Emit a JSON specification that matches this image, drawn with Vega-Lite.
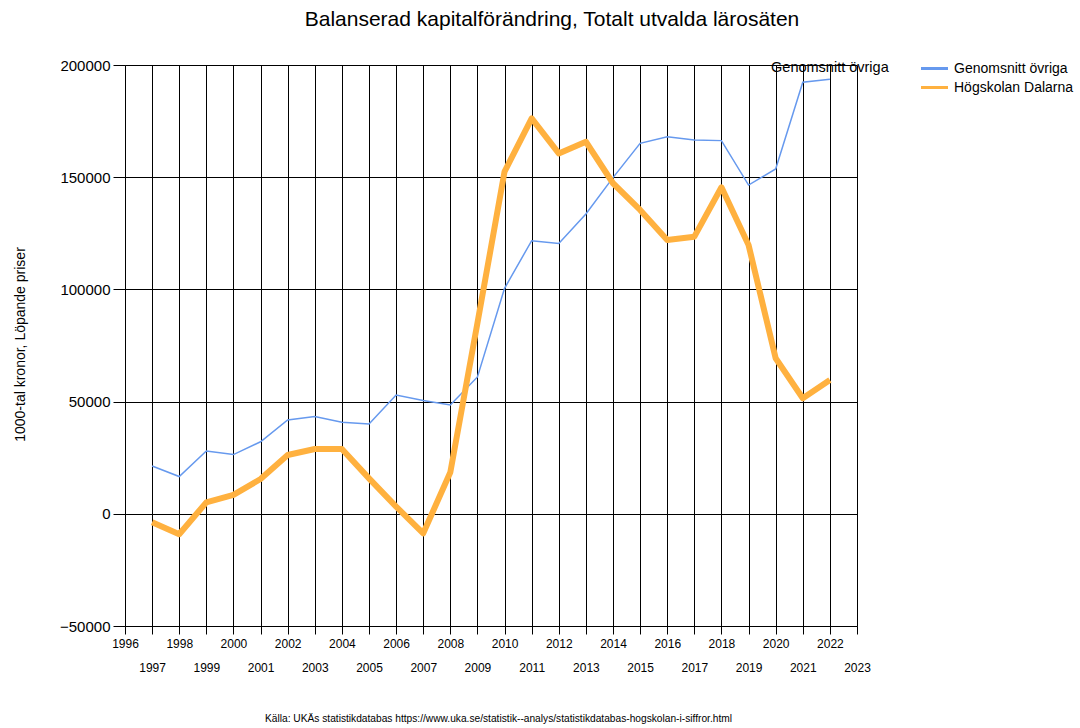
{
  "$schema": "https://vega.github.io/schema/vega-lite/v6.json",
  "width": 732,
  "height": 561,
  "autosize": {"type": "none"},
  "padding": {"left": 125, "top": 65, "right": 223, "bottom": 102},
  "background": "white",
  "config": {"font": "Liberation Sans", "view": {"stroke": null}},
  "title": {"text": "Balanserad kapitalförändring, Totalt utvalda lärosäten", "anchor": "middle", "frame": "group", "dx": 61, "offset": 28, "fontSize": 21, "fontWeight": "normal", "color": "black", "font": "Liberation Sans"},
  "data": {"values": [
    {"year": 1997, "series": "Genomsnitt övriga", "value": 21300},
    {"year": 1998, "series": "Genomsnitt övriga", "value": 16600},
    {"year": 1999, "series": "Genomsnitt övriga", "value": 28000},
    {"year": 2000, "series": "Genomsnitt övriga", "value": 26400},
    {"year": 2001, "series": "Genomsnitt övriga", "value": 32100},
    {"year": 2002, "series": "Genomsnitt övriga", "value": 41800},
    {"year": 2003, "series": "Genomsnitt övriga", "value": 43400},
    {"year": 2004, "series": "Genomsnitt övriga", "value": 40800},
    {"year": 2005, "series": "Genomsnitt övriga", "value": 40000},
    {"year": 2006, "series": "Genomsnitt övriga", "value": 52900},
    {"year": 2007, "series": "Genomsnitt övriga", "value": 50500},
    {"year": 2008, "series": "Genomsnitt övriga", "value": 48500},
    {"year": 2009, "series": "Genomsnitt övriga", "value": 61000},
    {"year": 2010, "series": "Genomsnitt övriga", "value": 100500},
    {"year": 2011, "series": "Genomsnitt övriga", "value": 121700},
    {"year": 2012, "series": "Genomsnitt övriga", "value": 120500},
    {"year": 2013, "series": "Genomsnitt övriga", "value": 133600},
    {"year": 2014, "series": "Genomsnitt övriga", "value": 149800},
    {"year": 2015, "series": "Genomsnitt övriga", "value": 165100},
    {"year": 2016, "series": "Genomsnitt övriga", "value": 168000},
    {"year": 2017, "series": "Genomsnitt övriga", "value": 166600},
    {"year": 2018, "series": "Genomsnitt övriga", "value": 166300},
    {"year": 2019, "series": "Genomsnitt övriga", "value": 146500},
    {"year": 2020, "series": "Genomsnitt övriga", "value": 153700},
    {"year": 2021, "series": "Genomsnitt övriga", "value": 192300},
    {"year": 2022, "series": "Genomsnitt övriga", "value": 193600},
    {"year": 1997, "series": "Högskolan Dalarna", "value": -3800},
    {"year": 1998, "series": "Högskolan Dalarna", "value": -9100},
    {"year": 1999, "series": "Högskolan Dalarna", "value": 5100},
    {"year": 2000, "series": "Högskolan Dalarna", "value": 8400},
    {"year": 2001, "series": "Högskolan Dalarna", "value": 15500},
    {"year": 2002, "series": "Högskolan Dalarna", "value": 26200},
    {"year": 2003, "series": "Högskolan Dalarna", "value": 28900},
    {"year": 2004, "series": "Högskolan Dalarna", "value": 28900},
    {"year": 2005, "series": "Högskolan Dalarna", "value": 15800},
    {"year": 2006, "series": "Högskolan Dalarna", "value": 3200},
    {"year": 2007, "series": "Högskolan Dalarna", "value": -8700},
    {"year": 2008, "series": "Högskolan Dalarna", "value": 18500},
    {"year": 2009, "series": "Högskolan Dalarna", "value": 85000},
    {"year": 2010, "series": "Högskolan Dalarna", "value": 152500},
    {"year": 2011, "series": "Högskolan Dalarna", "value": 176200},
    {"year": 2012, "series": "Högskolan Dalarna", "value": 160600},
    {"year": 2013, "series": "Högskolan Dalarna", "value": 165800},
    {"year": 2014, "series": "Högskolan Dalarna", "value": 147300},
    {"year": 2015, "series": "Högskolan Dalarna", "value": 135400},
    {"year": 2016, "series": "Högskolan Dalarna", "value": 122000},
    {"year": 2017, "series": "Högskolan Dalarna", "value": 123500},
    {"year": 2018, "series": "Högskolan Dalarna", "value": 145500},
    {"year": 2019, "series": "Högskolan Dalarna", "value": 119800},
    {"year": 2020, "series": "Högskolan Dalarna", "value": 69300},
    {"year": 2021, "series": "Högskolan Dalarna", "value": 51500},
    {"year": 2022, "series": "Högskolan Dalarna", "value": 59600}
  ]},
  "encoding": {
    "x": {"field": "year", "type": "quantitative",
      "scale": {"domain": [1996, 2023], "nice": false, "zero": false},
      "axis": {"values": [1996,1997,1998,1999,2000,2001,2002,2003,2004,2005,2006,2007,2008,2009,2010,2011,2012,2013,2014,2015,2016,2017,2018,2019,2020,2021,2022,2023],
        "format": "d", "grid": true, "gridColor": "black", "gridOpacity": 1, "gridWidth": 1,
        "domainColor": "black", "domainWidth": 1, "tickColor": "black", "tickSize": 8,
        "labelFontSize": 12, "labelColor": "black", "labelFont": "Liberation Sans",
        "labelPadding": {"condition": {"test": "datum.value % 2 === 1", "value": 28}, "value": 4},
        "labelFlush": false, "labelOverlap": false,
        "title": "Källa: UKÄs statistikdatabas https://www.uka.se/statistik--analys/statistikdatabas-hogskolan-i-siffror.html",
        "titleFontSize": 10.2, "titleFontWeight": "normal", "titleColor": "black", "titleFont": "Liberation Sans",
        "titleX": 373, "titleY": 92, "titleAnchor": null, "titleAlign": "center", "titleBaseline": "middle"}},
    "y": {"field": "value", "type": "quantitative",
      "scale": {"domain": [-50000, 200000], "nice": false, "zero": false},
      "axis": {"values": [-50000, 0, 50000, 100000, 150000, 200000], "format": "d",
        "grid": true, "gridColor": "black", "gridOpacity": 1, "gridWidth": 1,
        "domainColor": "black", "tickColor": "black", "tickSize": 12, "labelPadding": 3,
        "labelFontSize": 15, "labelColor": "black", "labelFont": "Liberation Sans",
        "title": "1000-tal kronor, Löpande priser", "titleFontSize": 14, "titleFontWeight": "normal",
        "titleColor": "black", "titleFont": "Liberation Sans",
        "titleX": -105, "titleY": 279, "titleAngle": -90, "titleAlign": "center", "titleBaseline": "middle"}},
    "color": {"field": "series", "type": "nominal",
      "scale": {"domain": ["Genomsnitt övriga", "Högskolan Dalarna"], "range": ["#6699EE", "#FFB13F"]},
      "legend": {"title": null, "orient": "none", "legendX": 799, "legendY": -7,
        "symbolType": "M-1.5,0H1.5", "symbolSize": 324, "symbolStrokeWidth": 3,
        "labelFontSize": 14, "labelColor": "black", "labelFont": "Liberation Sans", "labelOffset": 9, "rowPadding": 1, "symbolOffset": 0}}
  },
  "layer": [
    {"transform": [{"filter": "datum.series === 'Genomsnitt övriga'"}],
     "mark": {"type": "line", "strokeWidth": 1.5}},
    {"transform": [{"filter": "datum.series === 'Högskolan Dalarna'"}],
     "mark": {"type": "line", "strokeWidth": 6, "strokeJoin": "round"}},
    {"transform": [{"filter": "datum.series === 'Genomsnitt övriga' && datum.year === 2022"}],
     "mark": {"type": "text", "dy": -11, "fontSize": 14.5, "color": "black", "font": "Liberation Sans"},
     "encoding": {"text": {"field": "series"}, "color": {"value": "black"}}}
  ]
}
